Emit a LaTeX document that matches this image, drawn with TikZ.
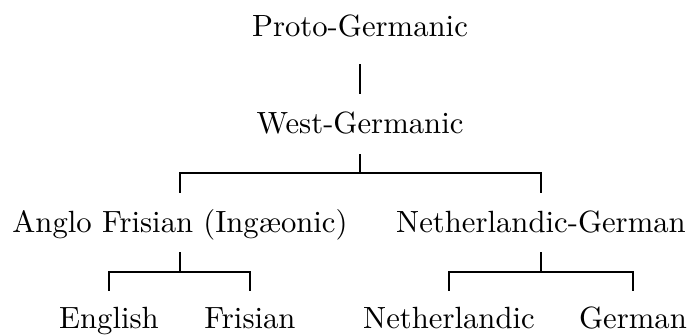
\documentclass[tikz,border=0pt]{standalone}
\usepackage{fontspec}
\usetikzlibrary{calc}
\tikzset{
  lang/.style={anchor=base, inner sep=0pt, font=\fontsize{10}{12}\selectfont},
  edge/.style={line width=0.6pt, line cap=rect}
}
\begin{document}
\begin{tikzpicture}[x=0.3257pt, y=-0.3257pt]
\useasboundingbox (0,0) rectangle (690,334);
\node[lang] (pg) at (360,36) {Proto-Germanic};
\node[lang] (wg) at (360,133) {West-Germanic};
\node[lang] (af) at (180,232) {Anglo Frisian (Ingæonic)};
\node[lang] (ng) at (541,232) {Netherlandic-German};
\node[lang] (en) at (109,328) {English};
\node[lang] (fr) at (250,328) {Frisian};
\node[lang] (nl) at (449,328) {Netherlandic};
\node[lang] (ge) at (633,328) {German};
% Proto -> West
\draw[edge] ($(pg.base)+(0,29)$) -- ($(wg.base)+(0,-40)$);
% West -> children
\draw[edge] ($(wg.base)+(0,22)$) -- ($(wg.base)+(0,40)$) coordinate (wgh);
\draw[edge] ($(af.base)+(0,-40)$) |- (wgh) -| ($(ng.base)+(0,-40)$);
% Anglo Frisian -> children
\draw[edge] ($(af.base)+(0,21)$) -- ($(af.base)+(0,40)$) coordinate (afh);
\draw[edge] ($(en.base)+(0,-38)$) |- (afh) -| ($(fr.base)+(0,-38)$);
% Netherlandic-German -> children
\draw[edge] ($(ng.base)+(0,21)$) -- ($(ng.base)+(0,40)$) coordinate (ngh);
\draw[edge] ($(nl.base)+(0,-38)$) |- (ngh) -| ($(ge.base)+(0,-38)$);
\end{tikzpicture}
\end{document}
